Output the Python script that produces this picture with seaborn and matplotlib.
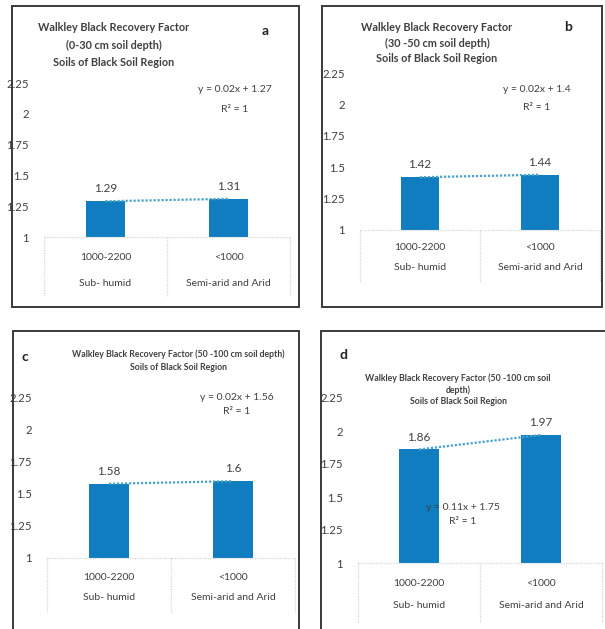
import numpy as np
import pandas as pd
import matplotlib
matplotlib.use("Agg")
import matplotlib.pyplot as plt
import seaborn as sns
from matplotlib import font_manager
from matplotlib.patches import Rectangle

# ---- data -------------------------------------------------------------
rainfall = ["1000-2200", "<1000"]
climate = ["Sub- humid", "Semi-arid and Arid"]
panel_letters = ["a", "b", "c", "d"]
titles = [
    "Walkley Black Recovery Factor\n(0-30 cm soil depth)\nSoils of Black Soil Region",
    "Walkley Black Recovery Factor\n(30 -50 cm soil depth)\nSoils of Black Soil Region",
    "Walkley Black Recovery Factor (50 -100 cm soil depth)\nSoils of Black Soil Region",
    "Walkley Black Recovery Factor (50 -100 cm soil\ndepth)\nSoils of Black Soil Region",
]
factor_a = [1.29, 1.31]
factor_b = [1.42, 1.44]
factor_c = [1.58, 1.60]
factor_d = [1.86, 1.97]
y_ticks = [1, 1.25, 1.5, 1.75, 2, 2.25]
y_tick_labels = ["1", "1.25", "1.5", "1.75", "2", "2.25"]

# ---- style ------------------------------------------------------------
sns.set_theme(style="white")
available = {f.name for f in font_manager.fontManager.ttflist}
FONT = "Liberation Sans Narrow" if "Liberation Sans Narrow" in available else "Lato"
plt.rcParams["font.family"] = [FONT, "DejaVu Sans"]

BAR = "#0f7dbf"
TREND = "#4aa2cc"
TEXT = "#404040"
GRID = "#d6d6d6"
FRAME = "#3a3a3a"

W, H = 605, 629
fig = plt.figure(figsize=(W / 100, H / 100), dpi=100)
fig.patch.set_facecolor("white")


def fx(px):
    return px / W


def fy(py):
    return 1 - py / H


# panel geometry in pixels
panels = [
    dict(values=factor_a, axes=(44, 290, 83, 237), frame=(12, 6, 299, 307),
         title_xy=(114, 45), title_fs=7.8, title_ls=1.75, letter_xy=(265, 31),
         eq_xy=(235, 90), r2_xy=(235, 110), rows=(20, 46), div=60),
    dict(values=factor_b, axes=(360, 600, 73, 230), frame=(322, 6, 602, 307),
         title_xy=(437, 43), title_fs=7.8, title_ls=1.45, letter_xy=(568, 27),
         eq_xy=(537, 90), r2_xy=(537, 107), rows=(17, 37), div=52),
    dict(values=factor_c, axes=(47, 295, 398, 558), frame=(13, 331, 299, 640),
         title_xy=(178, 361), title_fs=6.3, title_ls=1.55, letter_xy=(25, 357),
         eq_xy=(237, 398), r2_xy=(237, 411), rows=(19, 39), div=55),
    dict(values=factor_d, axes=(358, 602, 398, 563), frame=(321, 331, 610, 640),
         title_xy=(458, 390), title_fs=6.3, title_ls=1.3, letter_xy=(343, 355),
         eq_xy=(463, 507), r2_xy=(463, 522), rows=(20, 42), div=60),
]

for letter, title, p in zip(panel_letters, titles, panels):
    left, right, top, bottom = p["axes"]
    ax = fig.add_axes([fx(left), fy(bottom), (right - left) / W, (bottom - top) / H])
    ax.set_facecolor("none")

    df = pd.DataFrame({"rainfall": rainfall, "climate": climate, "factor": p["values"]})
    sns.barplot(data=df, x="rainfall", y="factor", ax=ax, color=BAR,
                width=0.32, saturation=1, edgecolor="none", errorbar=None)

    ax.set_xlim(-0.5, 1.5)
    ax.set_ylim(1, 2.25)
    ax.set_yticks(y_ticks)
    ax.set_yticklabels(y_tick_labels)
    ax.set_xticks([])
    ax.set_xlabel("")
    ax.set_ylabel("")
    ax.tick_params(axis="y", length=0, labelsize=8.2, labelcolor=TEXT, pad=11)
    for s in ax.spines.values():
        s.set_visible(False)

    # category axis: dotted baseline, dotted dividers and two label rows
    ax.axhline(1, color=GRID, lw=0.9, ls=(0, (1, 1)), clip_on=False)
    px_h = bottom - top
    for xd in (-0.5, 0.5, 1.5):
        ax.plot([xd, xd], [0, -p["div"] / px_h], color=GRID, lw=0.9, ls=(0, (1, 1)),
                transform=ax.get_xaxis_transform(), clip_on=False)
    for i, row in df.iterrows():
        for label, off in ((row["rainfall"], p["rows"][0]), (row["climate"], p["rows"][1])):
            ax.annotate(label, (i, 0), xycoords=ax.get_xaxis_transform(),
                        xytext=(0, -off * 0.72), textcoords="offset points",
                        ha="center", va="center", fontsize=7.5, color=TEXT)

    # value labels on bars
    for i, v in enumerate(p["values"]):
        ax.annotate(f"{v:g}", (i, v), xytext=(0, 5), textcoords="offset points",
                    ha="center", va="bottom", fontsize=8.5, color=TEXT)

    # linear trendline through the two bars (x = 1, 2)
    xs = np.array([1, 2])
    slope, intercept = np.polyfit(xs, p["values"], 1)
    fitted = np.polyval([slope, intercept], xs)
    resid = np.sum((np.array(p["values"]) - fitted) ** 2)
    total = np.sum((np.array(p["values"]) - np.mean(p["values"])) ** 2)
    r2 = 1 - resid / total
    ax.plot(xs - 1, fitted, color=TREND, lw=1.6, ls=(0, (1, 0.8)), zorder=3)

    fig.text(fx(p["eq_xy"][0]), fy(p["eq_xy"][1]),
             f"y = {round(slope, 2):g}x + {round(intercept, 2):g}",
             ha="center", va="center", fontsize=7.5, color=TEXT)
    fig.text(fx(p["r2_xy"][0]), fy(p["r2_xy"][1]), f"R² = {round(r2, 4):g}",
             ha="center", va="center", fontsize=7.5, color=TEXT)

    # chart title and panel letter
    fig.text(fx(p["title_xy"][0]), fy(p["title_xy"][1]), title, ha="center", va="center",
             fontsize=p["title_fs"], fontweight="bold", color=TEXT,
             linespacing=p["title_ls"], multialignment="center")
    fig.text(fx(p["letter_xy"][0]), fy(p["letter_xy"][1]), letter, ha="center", va="center",
             fontsize=10, fontweight="bold", color="#222222")

    # chart border
    x0, y0, x1, y1 = p["frame"]
    fig.add_artist(Rectangle((fx(x0), fy(y1)), (x1 - x0) / W, (y1 - y0) / H,
                             transform=fig.transFigure, fill=False,
                             edgecolor=FRAME, lw=1.4, clip_on=False))

fig.savefig("out.png", dpi=100, facecolor="white")
